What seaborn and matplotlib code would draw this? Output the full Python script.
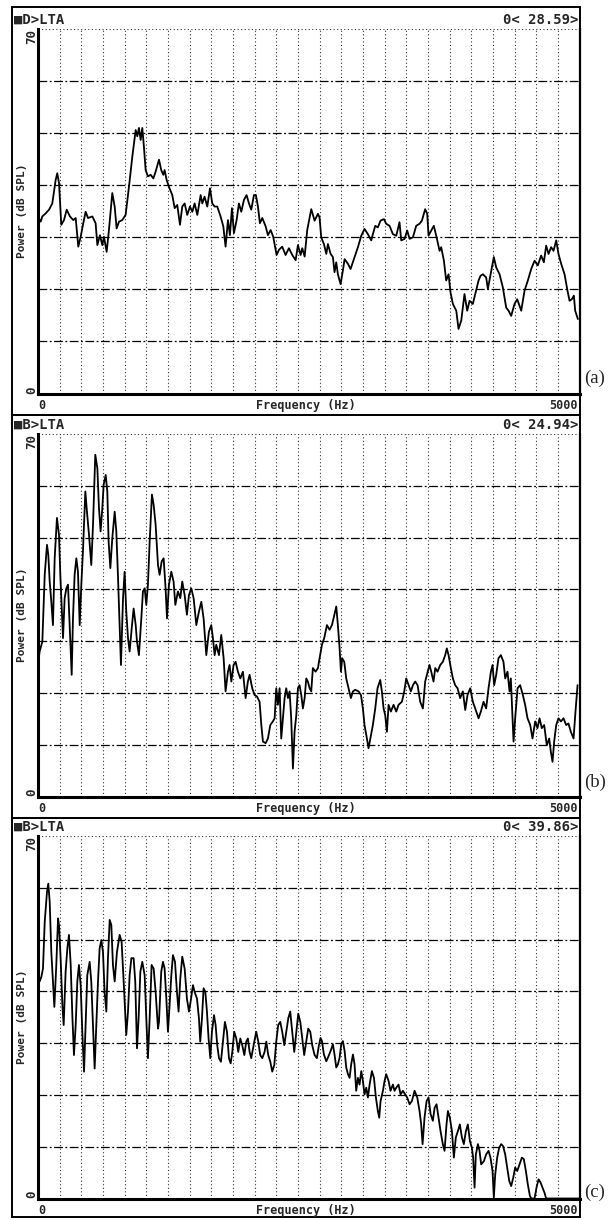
import numpy as np
import pandas as pd
import matplotlib
matplotlib.use("Agg")
import matplotlib.pyplot as plt
import seaborn as sns
from matplotlib.patches import Rectangle

# ---------------- data (Hz, dB SPL) ----------------
freq_a = [0,25,40,71,102,132,163,178,194,215,240,265,295,326,348,372,394,418,440,462,
          502,532,548,572,594,609,634,655,686,708,726,748,778,809,840,871,902,917,932,948,
          963,978,994,1015,1040,1065,1086,1117,1138,1157,1169,1188,1209,1240,1262,1286,1311,1332,1354,1378,
          1403,1425,1446,1471,1502,1517,1538,1563,1588,1609,1631,1655,1686,1711,1732,1754,1772,1791,1809,1834,
          1855,1877,1902,1926,1948,1969,1994,2012,2031,2049,2071,2102,2123,2148,2172,2203,2225,2255,2286,2317,
          2348,2379,2400,2425,2440,2462,2486,
          2523,2554,2585,2600,2615,2640,2662,2677,2702,2723,2738,2754,2769,2794,2815,2831,2862,2886,2923,2954,
          2985,3015,3046,3077,3092,3114,3138,3163,3194,3215,3246,3277,3308,3338,3354,3385,3409,3431,3462,3492,
          3523,3545,3575,3594,3606,3631,3655,3677,3708,3723,3748,3769,3791,3809,3831,3862,3883,3908,3938,3963,
          3985,4015,4037,4068,4086,4108,4138,4154,4185,4209,4231,4262,4292,4323,4345,4369,4400,4425,4462,4492,
          4523,4554,4585,4615,4646,4671,4692,4714,4738,4760,4785,4806,4831,4862,4886,4908,4929,4948,4960,4985]
db_a = [34.0,33.0,34.0,34.6,35.3,36.5,41.0,42.3,40.4,32.4,33.3,35.3,34.0,33.3,33.7,28.2,30.1,32.7,34.9,33.7,
        34.0,32.7,28.5,30.4,28.5,30.1,27.2,31.4,38.5,35.9,31.7,33.0,33.3,34.3,39.7,45.5,50.6,49.4,51.0,48.7,
        51.0,47.4,42.9,41.7,42.0,41.3,42.6,44.9,42.9,42.0,42.9,41.0,39.7,38.1,35.6,36.2,32.4,35.9,36.5,34.3,
        35.9,34.9,36.5,34.3,38.1,36.5,37.8,35.9,39.4,36.5,35.9,35.9,34.0,32.1,28.2,33.3,30.4,35.6,30.8,33.3,
        36.5,34.9,37.2,38.1,36.5,35.3,38.1,38.1,35.9,32.7,33.7,32.1,30.4,31.4,30.1,26.6,27.6,28.2,26.6,27.9,
        26.6,25.6,28.5,26.6,27.9,26.3,31.4,
        35.4,33.2,34.5,33.8,30.0,28.7,26.8,28.7,26.8,26.2,23.3,25.2,22.9,21.0,23.6,25.8,24.9,23.9,26.2,28.1,
        30.3,31.6,30.6,29.4,30.6,32.2,31.9,33.2,33.5,32.6,32.2,30.6,30.3,32.9,29.4,29.7,31.3,29.7,30.0,32.2,
        32.6,33.2,35.4,34.5,30.3,31.3,32.2,30.3,27.4,28.1,25.5,21.7,22.9,19.4,17.2,15.9,12.4,14.0,19.1,15.9,
        17.8,17.2,19.1,21.7,22.6,22.9,22.3,20.1,23.6,26.2,24.2,22.9,20.4,16.5,15.9,14.9,17.2,18.1,15.9,19.7,
        21.7,23.9,25.5,24.6,26.5,25.2,28.4,26.8,28.1,27.4,29.4,26.8,24.9,22.9,20.1,17.8,18.1,18.8,15.9,14.3]

freq_b = [0,15,40,62,83,95,108,123,138,154,175,194,206,231,246,262,277,292,311,323,
          338,354,369,385,400,415,437,452,471,492,508,529,548,563,578,594,606,625,640,652,
          668,686,708,723,738,754,766,785,800,815,831,846,868,883,902,914,932,954,969,985,
          1000,1015,1031,1052,1068,1086,1108,1123,1142,1160,1178,1191,1209,1231,1252,1268,1292,1314,1332,1354,
          1375,1394,1415,1437,1462,1486,1508,1529,1554,1578,1600,1615,1631,1646,1671,1692,1714,1732,1754,1769,
          1785,1806,1825,1846,1868,1892,1917,1938,1954,1978,2000,2022,2046,2062,2077,2102,2123,2145,2169,2185,
          2200,2215,2231,2246,2262,2277,2292,2308,2323,2338,2354,2369,2385,2400,2415,2431,2446,2462,2477,2492,
          2508,2523,2538,2563,2585,
          2600,2622,2643,2668,2692,2714,2729,2754,2769,2785,2797,2809,2828,2846,2868,2889,2908,2929,2960,2982,
          3000,3015,3037,3052,3074,3092,3114,3135,3160,3175,3191,3206,3222,3237,3258,3283,3308,3329,3360,3382,
          3400,3422,3443,3462,3483,3505,3529,3554,3575,3591,3615,3631,3652,3668,3689,3714,3738,3760,3775,3791,
          3812,3831,3852,3874,3898,3923,3945,3966,3991,4015,4037,4068,4089,4114,4138,4160,4182,4197,4212,4231,
          4252,4274,4298,4314,4335,4354,4366,4391,4406,4428,4452,4477,4498,4520,4545,4566,4591,4612,4631,4652,
          4674,4698,4720,4735,4751,4766,4785,4806,4828,4852,4877,4898,4920,4945,4963,4982]
db_b = [25.4,28.0,29.9,42.8,48.6,46.7,41.5,37.6,33.1,46.0,53.8,50.5,42.8,30.6,38.3,40.2,40.9,33.1,23.5,34.4,
        42.8,46.0,43.4,33.1,40.9,47.3,58.9,55.0,50.5,44.7,52.5,66.0,63.4,55.7,51.2,55.7,60.2,62.1,58.9,49.2,
        44.1,49.9,55.0,51.2,42.8,33.1,25.4,38.3,43.4,35.7,30.6,28.0,33.1,36.3,33.1,29.9,27.3,34.4,39.6,40.2,
        37.0,40.9,49.2,58.3,56.3,52.5,44.7,42.8,45.4,46.0,40.2,34.4,40.9,43.4,41.5,37.0,39.6,38.3,41.5,38.9,
        35.1,38.9,40.2,38.3,33.1,35.7,37.6,34.4,27.3,31.8,33.1,30.6,27.3,29.3,27.3,31.2,26.7,20.3,24.1,25.4,
        22.2,25.4,26.0,24.1,22.8,24.1,19.0,22.2,23.5,20.9,19.6,19.3,18.3,13.8,10.6,10.3,11.2,13.8,14.5,15.1,
        20.9,17.7,20.9,11.2,15.1,19.0,20.9,19.0,20.3,15.1,5.4,12.5,15.7,20.9,21.5,19.6,17.0,19.0,22.8,22.2,
        20.9,20.3,24.8,24.1,24.8,
        26.7,29.3,30.6,33.1,32.2,33.1,34.4,36.7,33.1,28.6,24.1,26.7,26.0,22.8,20.9,19.0,20.3,20.6,20.3,19.6,
        17.0,13.8,11.2,9.3,11.8,13.8,17.0,20.9,22.5,20.3,17.0,15.7,12.5,17.7,16.4,17.7,16.4,17.7,18.3,20.3,
        22.8,21.5,20.3,21.5,22.2,21.5,18.3,17.0,22.2,23.5,25.4,24.1,22.2,24.8,24.1,25.4,26.0,27.3,28.6,27.3,
        24.8,22.8,21.5,20.9,19.0,20.3,16.7,19.6,20.9,18.3,17.0,15.1,16.4,18.3,17.0,20.9,24.1,25.4,21.5,23.5,
        26.7,27.3,26.0,22.8,24.1,20.3,22.8,10.6,15.1,20.9,21.5,19.6,17.7,15.1,13.8,11.2,14.5,13.2,15.1,13.2,
        13.8,9.9,11.2,8.7,6.7,10.6,13.8,15.1,14.5,15.1,13.8,14.1,12.5,11.2,16.4,21.5]

freq_c = [0,15,31,46,62,83,95,108,123,138,151,169,185,194,209,225,237,255,271,286,
          302,317,332,348,363,378,394,409,425,440,455,477,492,508,523,538,554,569,585,600,
          615,631,646,662,677,692,708,729,754,772,791,815,831,846,862,883,898,914,929,945,
          963,985,1000,1015,1031,1049,1068,1086,1108,1117,1138,1154,1169,1185,1200,1215,1231,1246,1265,1283,
          1298,1314,1332,1354,1375,1394,1409,1431,1446,1468,1486,1498,1514,1529,1545,1560,1575,1591,1606,1625,
          1640,1655,1671,1689,1708,1726,1745,1763,1779,1794,1812,1831,1849,1868,1886,1905,1923,1938,1954,1969,
          1991,2015,2034,2052,2071,2092,2108,2126,2145,2163,2182,2200,2218,2237,2255,2274,2292,2311,2329,2348,
          2366,2385,2403,2422,2440,2458,2477,2495,2514,2532,2554,2575,2594,
          2609,2622,2640,2662,2677,2702,2723,2738,2754,2769,2785,2800,2815,2831,2846,2862,2877,2892,2908,2923,
          2938,2954,2969,2985,3000,3015,3031,3046,3062,3083,3102,3120,3138,3151,3163,3185,3200,3215,3237,3255,
          3277,3292,3308,3329,3348,3369,3391,3409,3431,3452,3477,3502,3523,3538,3551,3569,3588,3606,3625,3646,
          3662,3680,3698,3717,3738,3754,3772,3785,3803,3822,3840,3858,3877,3895,3914,3932,3951,3969,3988,4006,
          4018,4031,4043,4062,4077,4092,4117,4138,4160,4178,4197,4209,4222,4240,4258,4277,4295,4314,4332,4351,
          4369,4388,4406,4425,4446,4468,4486,4505,4523,4542,4554,4585,4603,4622,4640,4658,4677,4692,5000]
db_c = [42.5,41.9,42.8,44.4,53.4,59.2,60.8,57.3,47.6,41.9,37.0,45.1,54.1,52.8,46.4,37.3,33.5,43.8,48.3,50.9,
        45.1,35.4,27.7,33.5,41.9,45.1,41.2,32.2,24.5,33.5,43.1,45.7,41.9,33.5,25.1,33.5,41.9,48.3,49.9,47.6,
        39.9,36.1,46.4,53.8,52.8,45.1,41.9,47.6,50.9,49.6,41.9,31.6,36.1,43.1,46.4,46.4,41.9,29.0,34.8,43.8,
        45.7,43.1,34.8,27.1,34.8,45.1,44.4,39.9,32.8,34.1,43.8,45.7,44.4,38.6,32.2,37.3,43.1,47.0,45.7,39.9,
        36.1,42.5,46.7,44.4,38.6,36.1,38.0,41.2,39.9,38.6,34.8,30.3,34.8,40.6,39.9,36.1,30.9,27.1,32.2,35.4,
        33.5,29.6,27.1,26.4,30.3,34.1,32.2,27.1,26.1,28.3,32.2,30.9,28.3,30.9,29.6,27.7,30.3,30.9,28.3,27.1,
        29.6,32.2,30.3,27.7,27.1,28.3,30.3,27.7,26.4,24.5,25.8,30.3,33.5,34.1,32.2,29.6,32.2,34.8,36.1,32.2,
        28.3,32.2,35.7,34.1,30.9,27.7,30.3,32.8,32.2,29.6,27.7,27.1,29.6,
        31.0,30.4,27.8,26.5,27.2,28.5,29.8,27.8,25.3,25.9,27.2,29.8,30.4,28.5,25.3,24.0,23.3,25.9,27.8,25.9,
        20.8,23.3,22.0,24.6,22.7,20.1,21.4,19.5,22.0,24.6,23.3,19.5,16.9,15.6,18.8,20.8,22.7,24.0,22.7,20.8,
        22.0,20.8,21.4,22.0,20.1,20.8,20.1,19.5,18.2,18.8,20.8,19.5,16.9,14.3,10.5,15.6,18.8,19.5,16.3,15.0,
        17.5,18.2,15.6,13.0,10.5,9.2,14.3,16.9,15.6,13.0,7.9,11.8,13.0,14.3,11.8,10.5,13.0,14.3,11.1,9.8,
        7.9,2.1,8.5,10.5,9.2,6.6,7.2,8.5,9.2,7.9,5.3,0.2,4.7,7.9,9.8,10.5,10.1,8.5,6.0,3.4,
        2.4,4.0,6.0,5.3,6.6,7.9,7.6,5.3,2.7,0.5,0.0,0.0,2.1,3.7,3.1,2.1,1.1,0.0,0.0]

headers = ["\u25a0D>LTA", "\u25a0B>LTA", "\u25a0B>LTA"]
readouts = ["0< 28.59>", "0< 24.94>", "0< 39.86>"]
panel_tags = ["(a)", "(b)", "(c)"]
x_tick_labels = ["0", "5000"]
y_tick_labels = ["0", "70"]
x_title = "Frequency (Hz)"
y_title = "Power (dB SPL)"

# ---------------- layout ----------------
sns.set_theme(style="white")
plt.rcParams['font.family'] = ['DejaVu Sans Mono', 'DejaVu Sans']

W, H = 616, 1220
fig = plt.figure(figsize=(W / 100, H / 100), dpi=100)
fig.patch.set_facecolor("white")

def fx(px):
    return px / W

def fy(py):
    return 1 - py / H

plot_left, plot_right = 38, 579.5
plot_tops = [29, 434, 836]
plot_bottoms = [393.5, 796.5, 1198.5]
frame_tops = [7, 415, 818]
frame_bottoms = [415, 818, 1217]
tag_y = [378, 782, 1192]

series = [(freq_a, db_a), (freq_b, db_b), (freq_c, db_c)]

for i, (fr, db) in enumerate(series):
    top, bot = plot_tops[i], plot_bottoms[i]
    ax = fig.add_axes([fx(plot_left), fy(bot), fx(plot_right - plot_left), (bot - top) / H])
    df = pd.DataFrame({"freq": fr, "db": db})
    sns.lineplot(data=df, x="freq", y="db", ax=ax, color="black", lw=1.3,
                 estimator=None, sort=False, clip_on=True)
    ax.set_xlim(0, 5000)
    ax.set_ylim(0, 70)
    ax.set_xticks(np.arange(0, 5001, 200))
    ax.set_yticks(np.arange(0, 61, 10))
    ax.tick_params(length=0, labelbottom=False, labelleft=False)
    ax.set_xlabel("")
    ax.set_ylabel("")
    ax.xaxis.grid(True, color="#333333", lw=0.8, ls=(0, (1, 2.2)))
    ax.yaxis.grid(True, color="black", lw=0.9, ls=(0, (7, 2, 1.5, 2)))
    ax.axhline(70, color="#333333", lw=0.8, ls=(0, (1, 2.2)), zorder=0.5)
    ax.set_axisbelow(True)
    ax.set_facecolor("white")
    for s in ["left", "bottom"]:
        ax.spines[s].set_visible(True)
        ax.spines[s].set_color("black")
        ax.spines[s].set_linewidth(2.2)
    ax.spines["right"].set_visible(True)
    ax.spines["right"].set_color("black")
    ax.spines["right"].set_linewidth(1.6)
    ax.spines["top"].set_visible(False)

    # outer frame of the screen
    fig.add_artist(Rectangle((fx(12), fy(frame_bottoms[i])), fx(580 - 12),
                             (frame_bottoms[i] - frame_tops[i]) / H,
                             transform=fig.transFigure, fill=False,
                             edgecolor="black", lw=1.4))

    # header
    fig.text(fx(14), fy(top - 9), headers[i], ha="left", va="center",
             fontsize=10, weight="bold")
    fig.text(fx(578), fy(top - 9), readouts[i], ha="right", va="center",
             fontsize=10, weight="bold")
    # y labels
    fig.text(fx(32), fy(top), y_tick_labels[1], rotation=90, ha="center", va="top",
             fontsize=9, weight="bold")
    fig.text(fx(32), fy(bot), y_tick_labels[0], rotation=90, ha="center", va="bottom",
             fontsize=9, weight="bold")
    fig.text(fx(22), fy((top + bot) / 2), y_title, rotation=90, ha="center", va="center",
             fontsize=8, weight="bold")
    # x labels
    lab_y = bot + 12
    fig.text(fx(38), fy(lab_y), x_tick_labels[0], ha="left", va="center",
             fontsize=8.5, weight="bold")
    fig.text(fx(306), fy(lab_y), x_title, ha="center", va="center",
             fontsize=8.5, weight="bold")
    fig.text(fx(578), fy(lab_y), x_tick_labels[1], ha="right", va="center",
             fontsize=8.5, weight="bold")
    # panel tag
    fig.text(fx(584), fy(tag_y[i]), panel_tags[i], ha="left", va="center",
             fontsize=13.5, family="Liberation Serif")

fig.savefig("out.png", dpi=100, facecolor="white")
